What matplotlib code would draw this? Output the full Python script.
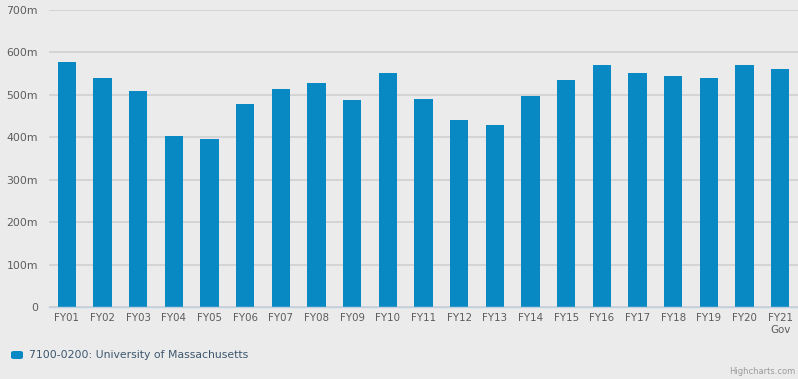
import matplotlib
matplotlib.use("Agg")
import matplotlib.pyplot as plt
from matplotlib.patches import FancyBboxPatch

# Annual appropriation, line item 7100-0200 (millions of dollars)
categories = ["FY01", "FY02", "FY03", "FY04", "FY05", "FY06", "FY07", "FY08",
              "FY09", "FY10", "FY11", "FY12", "FY13", "FY14", "FY15", "FY16",
              "FY17", "FY18", "FY19", "FY20", "FY21\nGov"]
values = [578, 540, 509, 404, 396, 478, 514, 527, 487, 551, 491, 440, 430,
          498, 534, 570, 551, 545, 540, 570, 562]
y_ticks = [0, 100, 200, 300, 400, 500, 600, 700]
y_tick_labels = ["0", "100m", "200m", "300m", "400m", "500m", "600m", "700m"]
series_name = "7100-0200: University of Massachusetts"

bg = "#ebebeb"
bar_color = "#0889c3"
label_color = "#5c5c5c"

W, H = 798, 379
fig = plt.figure(figsize=(W / 100, H / 100), dpi=100, facecolor=bg)
ax = fig.add_axes([49 / W, 1 - 307 / H, 749 / W, 297 / H], facecolor=bg)

x = range(len(categories))
ax.bar(x, values, width=0.515, color=bar_color, zorder=3)

ax.set_xlim(-0.5, len(categories) - 0.5)
ax.set_ylim(0, 700)
ax.set_yticks(y_ticks)
ax.set_yticklabels(y_tick_labels)
ax.set_xticks(list(x))
ax.set_xticklabels(categories, linespacing=1.25)

ax.grid(axis="y", color="#d2d2d2", linewidth=1.3, zorder=0)
for side in ("top", "right", "left"):
    ax.spines[side].set_visible(False)
ax.spines["bottom"].set_color("#c0d0e0")
ax.spines["bottom"].set_linewidth(1.0)
ax.spines["bottom"].set_zorder(4)

ax.tick_params(axis="y", length=0, pad=8, labelsize=7.8, labelcolor=label_color)
ax.tick_params(axis="x", length=0, pad=4, labelsize=7.4, labelcolor=label_color)

# Legend: rounded swatch plus series name
swatch = FancyBboxPatch((11 / W, 1 - 359 / H), 12 / W, 8 / H,
                        boxstyle="round,pad=0,rounding_size=0.004",
                        transform=fig.transFigure, facecolor=bar_color,
                        edgecolor="none")
fig.patches.append(swatch)
fig.text(29 / W, 1 - 355 / H, series_name, ha="left", va="center",
         fontsize=7.8, color="#3e576f")

fig.text(795 / W, 1 - 371 / H, "Highcharts.com", ha="right", va="center",
         fontsize=6, color="#9a9a9a")

fig.savefig("out.png", dpi=100, facecolor=bg)
